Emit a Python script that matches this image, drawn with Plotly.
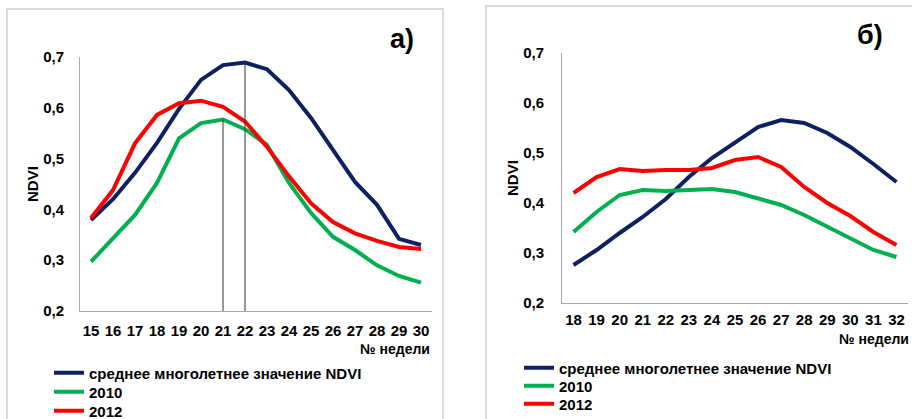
import plotly.graph_objects as go

W, H = 912, 419

# ---- data: panel а) ----
weeks_a = list(range(15, 31))
mean_a = [0.379, 0.420, 0.472, 0.531, 0.598, 0.655, 0.684, 0.689, 0.676, 0.635, 0.580, 0.517, 0.454, 0.409, 0.342, 0.330]
y2010_a = [0.297, 0.344, 0.389, 0.452, 0.540, 0.570, 0.577, 0.558, 0.527, 0.452, 0.393, 0.346, 0.320, 0.290, 0.269, 0.256]
y2012_a = [0.383, 0.438, 0.530, 0.586, 0.609, 0.614, 0.602, 0.573, 0.523, 0.465, 0.412, 0.375, 0.353, 0.338, 0.326, 0.322]
marked_weeks_a = [21, 22]

# ---- data: panel б) ----
weeks_b = list(range(18, 33))
mean_b = [0.276, 0.306, 0.340, 0.372, 0.408, 0.452, 0.490, 0.522, 0.552, 0.566, 0.560, 0.540, 0.512, 0.478, 0.442]
y2010_b = [0.342, 0.382, 0.416, 0.426, 0.424, 0.426, 0.428, 0.422, 0.410, 0.396, 0.376, 0.352, 0.328, 0.306, 0.292]
y2012_b = [0.420, 0.452, 0.468, 0.464, 0.466, 0.466, 0.470, 0.486, 0.492, 0.472, 0.432, 0.400, 0.374, 0.342, 0.316]

series_names = ["среднее многолетнее значение NDVI", "2010", "2012"]
colors = ["#0D2160", "#00B050", "#FF0000"]
y_ticks = [0.2, 0.3, 0.4, 0.5, 0.6, 0.7]

FONT = "Liberation Sans, Arial, sans-serif"

def px(x):
    return x / W

def py(y):
    return 1 - y / H

fig = go.Figure()

legend_rows_a = [373, 392, 411]
legend_rows_b = [368, 386, 404]

for i, (name, vals, col) in enumerate(zip(series_names, [mean_a, y2010_a, y2012_a], colors)):
    fig.add_trace(go.Scatter(x=weeks_a, y=vals, name=name, mode="lines",
                             line=dict(color=col, width=4),
                             xaxis="x", yaxis="y", legend="legend" if i == 0 else f"legend{i + 1}"))

# vertical guide lines at weeks 21 (2010 peak) and 22 (mean peak)
peak_vals = [y2010_a[weeks_a.index(marked_weeks_a[0])], mean_a[weeks_a.index(marked_weeks_a[1])]]
for wk, v in zip(marked_weeks_a, peak_vals):
    fig.add_trace(go.Scatter(x=[wk, wk], y=[0.2, v], mode="lines",
                             line=dict(color="#333333", width=1),
                             showlegend=False, hoverinfo="skip",
                             xaxis="x", yaxis="y"))

for i, (name, vals, col) in enumerate(zip(series_names, [mean_b, y2010_b, y2012_b], colors)):
    fig.add_trace(go.Scatter(x=weeks_b, y=vals, name=name, mode="lines",
                             line=dict(color=col, width=4),
                             xaxis="x2", yaxis="y2", legend=f"legend{i + 4}"))

axis_common = dict(showgrid=False, zeroline=False, showline=True, linecolor="#A6A6A6",
                   linewidth=1, ticks="", automargin=False,
                   tickfont=dict(family=FONT, size=15, color="black", weight="bold"))

legend_font = dict(family=FONT, size=15, color="black", weight="bold")
legends = {}
for i, yrow in enumerate(legend_rows_a):
    key = "legend" if i == 0 else f"legend{i + 1}"
    legends[key] = dict(x=px(49), y=py(yrow), xanchor="left", yanchor="middle", itemwidth=30,
                        font=legend_font, bgcolor="rgba(0,0,0,0)", borderwidth=0)
for i, yrow in enumerate(legend_rows_b):
    legends[f"legend{i + 4}"] = dict(x=px(519), y=py(yrow), xanchor="left", yanchor="middle", itemwidth=30,
                                     font=legend_font, bgcolor="rgba(0,0,0,0)", borderwidth=0)

fig.update_layout(
    width=W, height=H,
    margin=dict(l=0, r=0, t=0, b=0, autoexpand=False),
    paper_bgcolor="white", plot_bgcolor="white",
    separators=", ",
    xaxis=dict(domain=[px(80), px(432)], range=[14.5, 30.5], tickvals=weeks_a,
               anchor="y", ticklabelstandoff=6, **axis_common),
    yaxis=dict(domain=[py(311), py(57)], range=[0.2, 0.7], tickvals=y_ticks, tickformat=".1f",
               anchor="x", ticklabelstandoff=12, **axis_common),
    xaxis2=dict(domain=[px(562), px(908)], range=[17.5, 32.5], tickvals=weeks_b,
                anchor="y2", ticklabelstandoff=3, **axis_common),
    yaxis2=dict(domain=[py(303), py(53)], range=[0.2, 0.7], tickvals=y_ticks, tickformat=".1f",
                anchor="x2", ticklabelstandoff=14, **axis_common),
    showlegend=True,
    **legends,
)

# panel frames
fig.add_shape(type="rect", xref="paper", yref="paper", x0=px(7), x1=px(443), y0=py(430), y1=py(9),
              line=dict(color="#D0D0D0", width=1.5), layer="below")
fig.add_shape(type="rect", xref="paper", yref="paper", x0=px(486), x1=px(920), y0=py(430), y1=py(6),
              line=dict(color="#D0D0D0", width=1.5), layer="below")

ann_font = dict(family=FONT, color="black", weight="bold")
fig.add_annotation(x=px(402), y=py(39), xref="paper", yref="paper", text="а)", showarrow=False,
                   xanchor="center", yanchor="middle", font=dict(size=27, **ann_font))
fig.add_annotation(x=px(870), y=py(35), xref="paper", yref="paper", text="б)", showarrow=False,
                   xanchor="center", yanchor="middle", font=dict(size=27, **ann_font))
fig.add_annotation(x=px(32), y=py(184), xref="paper", yref="paper", text="NDVI", textangle=-90,
                   xanchor="center", yanchor="middle", showarrow=False, font=dict(size=15, **ann_font))
fig.add_annotation(x=px(513), y=py(178), xref="paper", yref="paper", text="NDVI", textangle=-90,
                   xanchor="center", yanchor="middle", showarrow=False, font=dict(size=15, **ann_font))
fig.add_annotation(x=px(432), y=py(349), xref="paper", yref="paper", text="№ недели", xanchor="right",
                   yanchor="middle", showarrow=False, font=dict(size=14, **ann_font))
fig.add_annotation(x=px(911), y=py(339), xref="paper", yref="paper", text="№ недели", xanchor="right",
                   yanchor="middle", showarrow=False, font=dict(size=14, **ann_font))

fig.write_html("out.html")
